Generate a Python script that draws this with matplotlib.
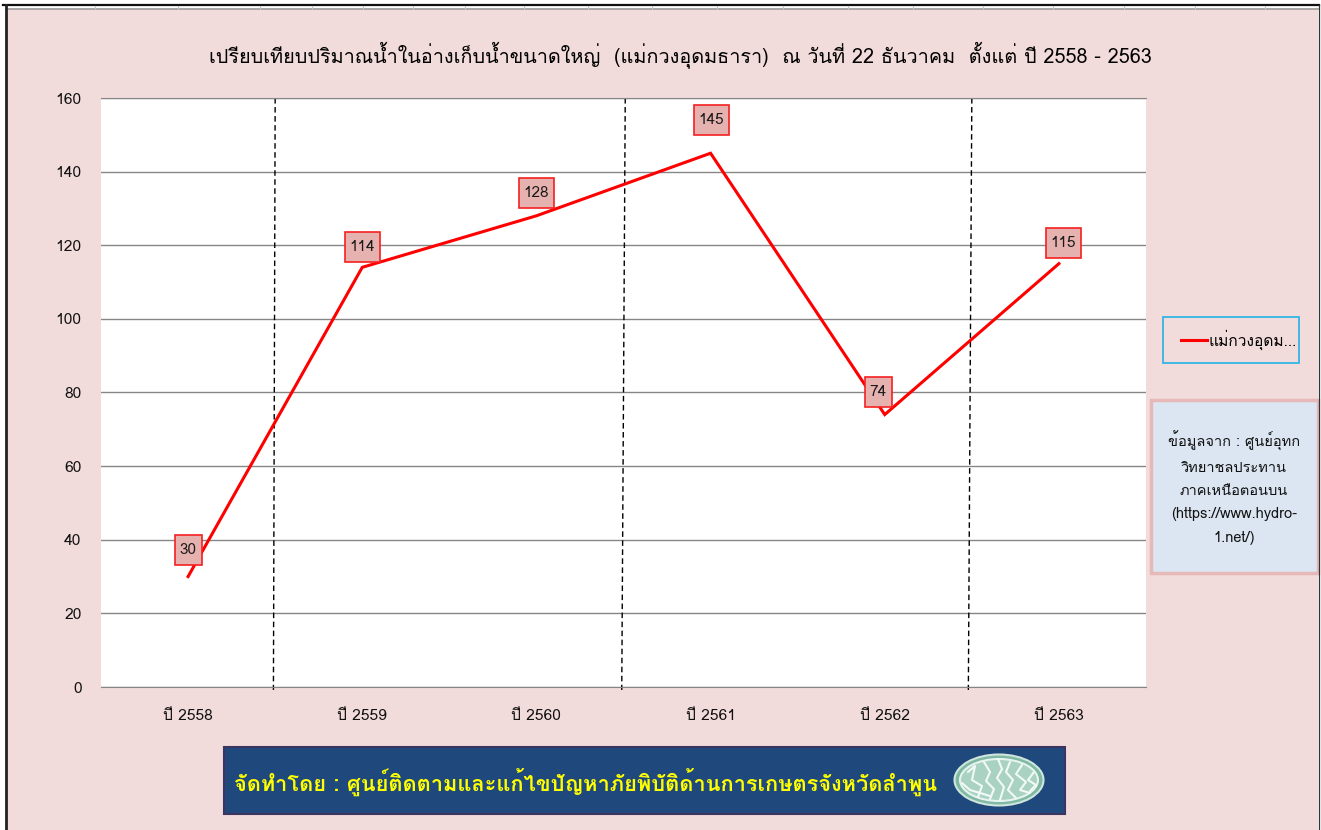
import matplotlib
matplotlib.use('Agg')
import matplotlib.pyplot as plt
from matplotlib.patches import Rectangle, Ellipse
from matplotlib.lines import Line2D
from matplotlib.transforms import IdentityTransform

plt.rcParams['font.family'] = ['Loma', 'DejaVu Sans']

W, H = 1321, 830

categories = ['ปี 2558', 'ปี 2559', 'ปี 2560', 'ปี 2561', 'ปี 2562', 'ปี 2563']
volumes = [30, 114, 128, 145, 74, 115]
y_ticks = [0, 20, 40, 60, 80, 100, 120, 140, 160]

# dashed separators are hand drawn in the source, so they lean a bit
sep_top = [0.50, 2.51, 4.50]
sep_bottom = [0.49, 2.49, 4.48]

# where each value box sits relative to its point, in pixels
label_dx = [0, 0, 0, 1, -6.5, 4.5]
label_dy = [27, 20, 23, 33, 22.5, 21]

# spreadsheet column edges showing along the top of the screenshot
column_edges = [95, 178, 260, 312, 363, 413, 465, 524, 588, 652, 717, 783, 848, 913,
                983, 1053, 1124, 1195, 1265]

title = 'เปรียบเทียบปริมาณน้ำในอ่างเก็บน้ำขนาดใหญ่  (แม่กวงอุดมธารา)  ณ วันที่ 22 ธันวาคม  ตั้งแต่ ปี 2558 - 2563'
legend_label = 'แม่กวงอุดม...'
source_note = 'ข้อมูลจาก : ศูนย์อุทก\nวิทยาชลประทาน\nภาคเหนือตอนบน\n(https://www.hydro-\n1.net/)'
footer = 'จัดทำโดย : ศูนย์ติดตามและแก้ไขปัญหาภัยพิบัติด้านการเกษตรจังหวัดลำพูน'

PINK = '#f2dcdb'
RED = '#ff0000'
GRID = '#868686'


def px_box(x0, y0, x1, y1):
    # pixel box (y down) to figure fraction rect
    return [x0 / W, 1 - y1 / H, (x1 - x0) / W, (y1 - y0) / H]


fig = plt.figure(figsize=(W / 100, H / 100), dpi=100, facecolor='white')

bg = fig.add_axes([0, 0, 1, 1])
bg.set_xlim(0, W)
bg.set_ylim(H, 0)
bg.axis('off')

# screenshot frame: pink sheet, header strip, black edges
bg.add_patch(Rectangle((6, 9), 1312, 821, facecolor=PINK, edgecolor='none'))
bg.add_line(Line2D([6, 1318], [9.5, 9.5], color='#9a9a9a', linewidth=1.2))
bg.add_line(Line2D([3, 1319], [5, 5], color='#111111', linewidth=1.6))
bg.add_line(Line2D([5.5, 5.5], [5, 830], color='#222222', linewidth=2))
bg.add_line(Line2D([1318.5, 1318.5], [5, 830], color='#333333', linewidth=0.9))
for edge in column_edges:
    bg.add_line(Line2D([edge, edge], [6, 9], color='#c4c4c4', linewidth=0.8))

ax = fig.add_axes(px_box(101, 98, 1146, 687), facecolor='white')
x = list(range(len(categories)))
ax.plot(x, volumes, color=RED, linewidth=2.2, solid_joinstyle='miter', zorder=3)
ax.set_xlim(-0.5, len(categories) - 0.5)
ax.set_ylim(0, 160)
ax.set_yticks(y_ticks)
ax.set_xticks(x)
ax.set_xticklabels(categories)
ax.tick_params(axis='both', length=0, labelsize=11.2, colors='#111111')
ax.tick_params(axis='x', pad=16)
ax.tick_params(axis='y', pad=14)
ax.grid(axis='y', color=GRID, linewidth=1)
ax.set_axisbelow(True)
for name, spine in ax.spines.items():
    spine.set_visible(name in ('top', 'bottom'))
    spine.set_color(GRID)

for xt, xb in zip(sep_top, sep_bottom):
    ax.plot([xt, xb], [160, -0.8], color='black', linewidth=1.0, linestyle=(0, (4, 2.5)),
            clip_on=False, zorder=2)

for xi, v, dx, dy in zip(x, volumes, label_dx, label_dy):
    px, py = ax.transData.transform((xi, v))
    bw = 35 if v >= 100 else 27
    ax.add_patch(Rectangle((px + dx - bw / 2, py + dy - 15), bw, 30, transform=IdentityTransform(),
                           facecolor='#e6b2b0', edgecolor='#f52020', linewidth=1.2,
                           clip_on=False, zorder=4))
    ax.text(px + dx, py + dy, str(v), transform=IdentityTransform(), ha='center', va='center',
            fontsize=11, color='#1a1a1a', zorder=5)

bg.text(680, 55, title, ha='center', va='center', fontsize=14.3, color='black')

# legend box
bg.add_patch(Rectangle((1162.5, 316.5), 136, 46, facecolor='none', edgecolor='#33b5e5', linewidth=1.3))
bg.add_line(Line2D([1181, 1207], [340, 340], color=RED, linewidth=2.2))
bg.text(1209, 340, legend_label, ha='left', va='center', fontsize=11.2, color='black')

# source note
bg.add_patch(Rectangle((1151, 400), 167, 173, facecolor='#dce6f2', edgecolor='#e6b9b8', linewidth=2.5))
bg.text(1234, 488, source_note, ha='center', va='center', fontsize=10.5, color='#111111', linespacing=1.85)

# footer banner
bg.add_patch(Rectangle((223.5, 746.5), 841, 67, facecolor='#1f497d', edgecolor='#3b3560', linewidth=1.5))
bg.text(234, 782, footer, ha='left', va='center', fontsize=15.7, color='#ffff00', fontweight='bold')

# seal drawn as a rough stand-in for the logo
bg.add_patch(Ellipse((999, 780), 89, 51, facecolor='#7fb8a4', edgecolor='#cfe6dd', linewidth=1.5))
bg.add_patch(Ellipse((999, 780), 78, 42, facecolor='#a9d2c3', edgecolor='#e6f3ee', linewidth=1.5))
strokes = [
    ([968, 975, 972, 982, 978], [772, 766, 780, 786, 797]),
    ([984, 990, 986, 994, 990], [762, 772, 781, 789, 799]),
    ([998, 1002, 997, 1004, 1000], [759, 769, 778, 787, 800]),
    ([1010, 1006, 1013, 1008, 1016], [762, 772, 780, 790, 798]),
    ([1022, 1016, 1026, 1020, 1030], [765, 774, 782, 790, 793]),
    ([962, 970, 980, 990], [783, 790, 793, 796]),
    ([1034, 1028, 1036, 1030], [772, 780, 785, 791]),
]
for sx, sy in strokes:
    bg.add_line(Line2D(sx, sy, color='#f2faf7', linewidth=1.5, solid_capstyle='round'))

fig.savefig('out.png', dpi=100, facecolor='white')
